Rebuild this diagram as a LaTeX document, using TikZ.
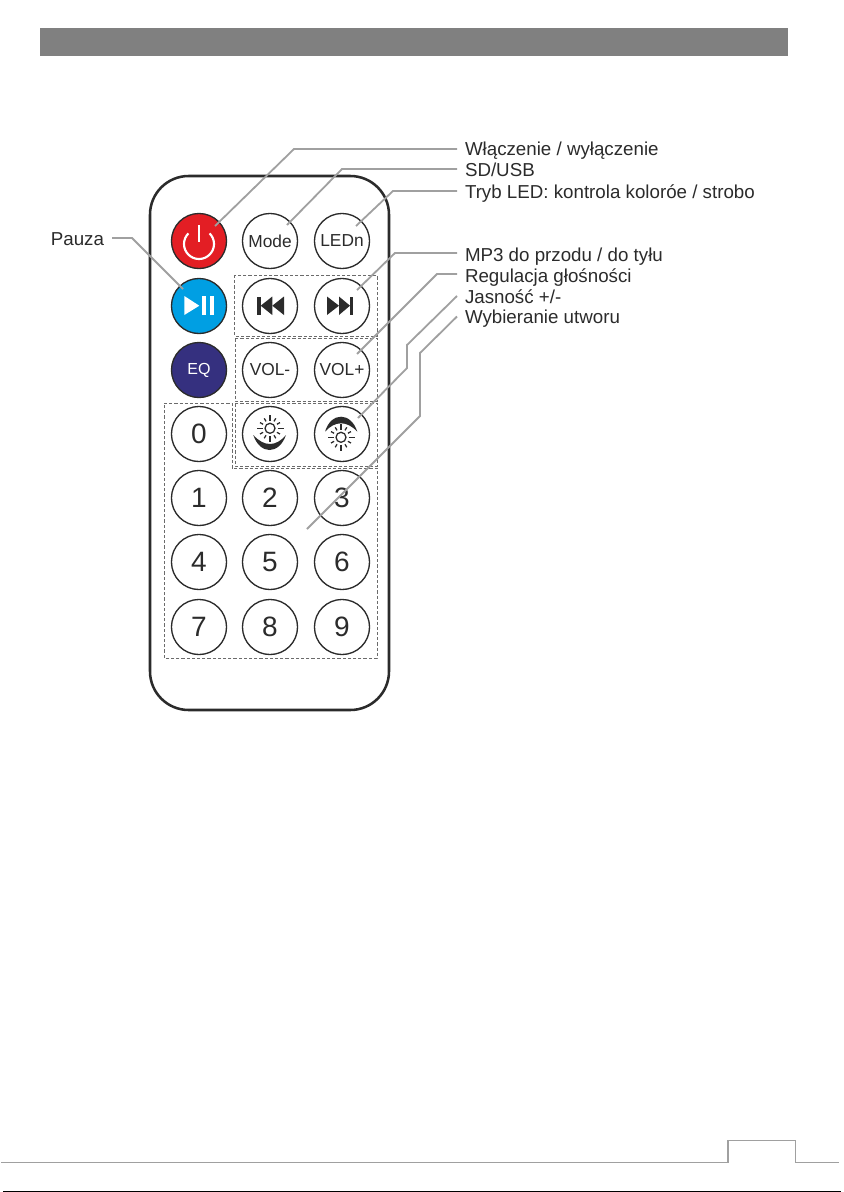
\documentclass[tikz,border=0pt]{standalone}
\usepackage{fontspec}
\setmainfont{Liberation Sans}
\definecolor{ink}{HTML}{2B2B2B}
\definecolor{leadgray}{HTML}{A0A0A0}
\definecolor{barg}{HTML}{808080}
\definecolor{pwred}{HTML}{E31E24}
\definecolor{plblue}{HTML}{009FE3}
\definecolor{eqblue}{HTML}{35307F}
\tikzset{
  btn/.style={circle,draw=ink,line width=1pt,minimum size=41.3pt,inner sep=0pt,fill=white,text=ink,font=\fontsize{13pt}{14pt}\selectfont},
  digit/.style={btn,font=\fontsize{21pt}{23pt}\selectfont},
  lbl/.style={inner sep=0pt,outer xsep=6pt,text height=10.5pt,text depth=0pt,anchor=base west,text=ink,font=\fontsize{14.05pt}{16pt}\selectfont},
  lblr/.style={lbl,anchor=base east},
  leader/.style={draw=leadgray,line width=1.35pt,line join=miter},
  dbox/.style={draw=ink!70,line width=0.5pt,dash pattern=on 2.4pt off 1.5pt},
  sunline/.style={draw=ink,line width=0.95pt},
}
\usetikzlibrary{calc}
\newcommand{\sunicon}[2]{%
  \draw[sunline] (#1,#2) circle[radius=5];
  \foreach \a in {0,90,180,270}{\draw[sunline] ($(#1,#2)+(\a:7.5)$) -- ($(#1,#2)+(\a:13.5)$);}
  \foreach \a in {30,60,120,150,210,240,300,330}{\draw[sunline] ($(#1,#2)+(\a:8)$) -- ($(#1,#2)+(\a:11.5)$);}
}
\begin{document}
\begin{tikzpicture}[x=0.75pt,y=-0.75pt]
\useasboundingbox (0,0) rectangle (843,1192);
\fill[white] (0,0) rectangle (843,1192);
% header bar
\fill[barg] (40,28) rectangle (788,56);
% remote body
\draw[ink,line width=1.9pt,rounded corners=29pt] (150,176) rectangle (389,710);
% dashed groups
\draw[dbox] (234.5,275) rectangle (377,336);
\draw[dbox] (235,338.5) rectangle (377,401);
\draw[dbox] (235,403.5) rectangle (377,466);
\draw[dbox] (164,403) -- (232,403) -- (232,468) -- (377,468) -- (377,658) -- (164,658) -- cycle;
% buttons
\node[btn,fill=pwred] (power) at (199,241) {};
\node[btn] (mode) at (270,241) {Mode};
\node[btn] (ledn) at (342,241) {LEDn};
\node[btn,fill=plblue] (play) at (199,306) {};
\node[btn] (prev) at (270,306) {};
\node[btn] (next) at (342,306) {};
\node[btn,fill=eqblue,text=white,font=\fontsize{12pt}{14pt}\selectfont] (eq) at (199,370) {EQ};
\node[btn] (volm) at (270,370) {VOL-};
\node[btn] (volp) at (342,370) {VOL+};
\node[digit] (d0) at (199,434) {0};
\node[btn] (bdown) at (270,434) {};
\node[btn] (bup) at (342,434) {};
\node[digit] (d1) at (199,498) {1};
\node[digit] (d2) at (270,498) {2};
\node[digit] (d3) at (342,498) {3};
\node[digit] (d4) at (199,562) {4};
\node[digit] (d5) at (270,562) {5};
\node[digit] (d6) at (342,562) {6};
\node[digit] (d7) at (199,627) {7};
\node[digit] (d8) at (270,627) {8};
\node[digit] (d9) at (342,627) {9};
% power icon
\draw[white,line width=1.6pt] (199,244) ++(-45:15) arc[start angle=-45,end angle=225,radius=15];
\draw[white,line width=1.6pt] (199,225) -- (199,242);
% play-pause icon
\fill[white] (184.3,296) -- (199.3,305.7) -- (184.3,315) -- cycle;
\fill[white] (201.7,296) rectangle (205.7,315);
\fill[white] (210,296) rectangle (214.3,315);
% prev icon
\fill[ink] (257.3,296.5) rectangle (260.7,315);
\fill[ink] (260.7,305.7) -- (272.3,296.5) -- (272.3,315) -- cycle;
\fill[ink] (272.3,305.7) -- (284,296.5) -- (284,315) -- cycle;
% next icon
\fill[ink] (327,296.5) -- (339,305.7) -- (327,315) -- cycle;
\fill[ink] (339,296.5) -- (350,305.7) -- (339,315) -- cycle;
\fill[ink] (349.5,296.5) rectangle (353,315);
% brightness icons
\sunicon{270}{428.3}
\fill[ink] (253.3,435) .. controls (260,455) and (279,455) .. (286,435) .. controls (276,447) and (264,447) .. (253.3,435) -- cycle;
\sunicon{341}{437.3}
\fill[ink] (325,431.7) .. controls (331,411.7) and (351,411.7) .. (357.3,431.7) .. controls (347,420.5) and (335,420.5) .. (325,431.7) -- cycle;
% labels
\node[lbl] (l1) at (457,155) {Włączenie / wyłączenie};
\node[lbl] (l2) at (457,176) {SD/USB};
\node[lbl] (l3) at (457,198) {Tryb LED: kontrola koloróe / strobo};
\node[lbl] (l4) at (457,261) {MP3 do przodu / do tyłu};
\node[lbl] (l5) at (457,282) {Regulacja głośności};
\node[lbl] (l6) at (457,303) {Jasność +/-};
\node[lbl] (l7) at (457,323.5) {Wybieranie utworu};
\node[lblr] (l8) at (112,245) {Pauza};
% leader points
\coordinate (c1) at (294,149);  \coordinate (e1) at (215,226);
\coordinate (c2) at (342,169);  \coordinate (e2) at (287,225);
\coordinate (c3) at (393,191);  \coordinate (e3) at (356,226);
\coordinate (c4) at (395,253);  \coordinate (e4) at (357,290);
\coordinate (c5) at (437,274);  \coordinate (e5) at (357,354);
\coordinate (c6a) at (407,345); \coordinate (c6b) at (407,368); \coordinate (e6) at (358,418);
\coordinate (c7a) at (420,353); \coordinate (c7b) at (420,416); \coordinate (e7) at (307,529);
\coordinate (c8) at (132,238);  \coordinate (e8) at (183,289);
\draw[leader] (l1.west |- c1) -- (c1) -- (e1);
\draw[leader] (l2.west |- c2) -- (c2) -- (e2);
\draw[leader] (l3.west |- c3) -- (c3) -- (e3);
\draw[leader] (l4.west |- c4) -- (c4) -- (e4);
\draw[leader] (l5.west |- c5) -- (c5) -- (e5);
\draw[leader] (l6.west) -- (c6a) -- (c6b) -- (e6);
\draw[leader] (l7.west) -- (c7a) -- (c7b) -- (e7);
\draw[leader] (l8.east |- c8) -- (c8) -- (e8);
% footer
\draw[leadgray,line width=0.75pt] (1,1162) -- (728,1162) -- (728,1140) -- (795,1140) -- (795,1162) -- (839,1162);
\draw[leadgray,line width=0.75pt] (727,1162) -- (727,1140);
\draw[black,line width=0.75pt] (3,1191.4) -- (841,1191.4);
\end{tikzpicture}
\end{document}
